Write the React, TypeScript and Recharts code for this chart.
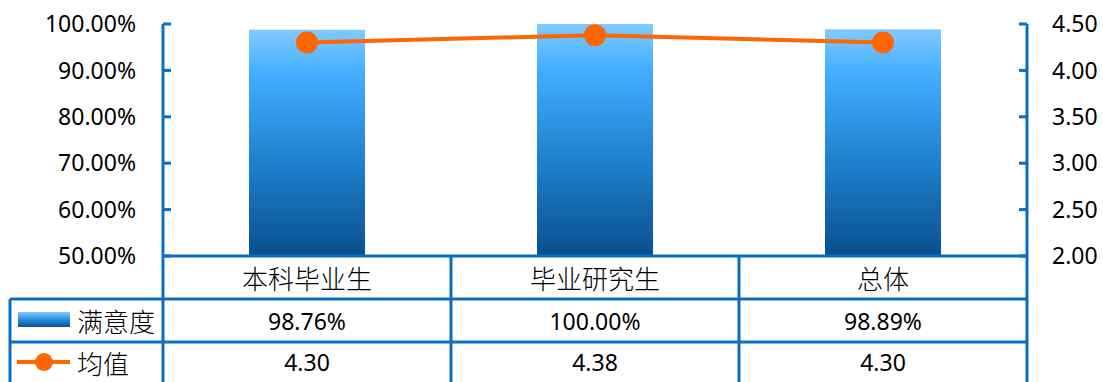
import React from 'react';
import { ComposedChart, Bar, Line, XAxis, YAxis } from 'recharts';

const categories = ['本科毕业生', '毕业研究生', '总体'];
const satisfaction = [0.9876, 1.0, 0.9889];
const satisfactionLabels = ['98.76%', '100.00%', '98.89%'];
const means = [4.3, 4.38, 4.3];
const meanLabels = ['4.30', '4.38', '4.30'];
const seriesNames = ['满意度', '均值'];
const leftTicks = [0.5, 0.6, 0.7, 0.8, 0.9, 1.0];
const rightTicks = [2.0, 2.5, 3.0, 3.5, 4.0, 4.5];

const data = categories.map((c, i) => ({ name: c, sat: satisfaction[i], mean: means[i] }));

const W = 1103;
const H = 382;
const LEFT_W = 163;
const RIGHT_W = 76;
const X_H = 126;
const BLUE = '#0A6FC2';
const ORANGE = '#FF6600';
const LATIN = '"Noto Sans", "Open Sans", sans-serif';
const CJK = '"Noto Sans CJK SC", "Noto Sans", sans-serif';
const BW = (W - LEFT_W - RIGHT_W) / categories.length;
const ROW1 = 43;
const ROW2 = 86;

const TableTick = (props: any) => {
  const { x, y, index } = props;
  const l = x - BW / 2;
  const r = x + BW / 2;
  const bottom = y + X_H;
  return (
    <g>
      <text x={x} y={y + 21} textAnchor="middle" dominantBaseline="central" fontFamily={CJK} fontSize={26} fontWeight={300} fill="#000">
        {categories[index]}
      </text>
      <text x={x} y={y + 64.5} textAnchor="middle" dominantBaseline="central" fontFamily={LATIN} fontSize={23} fill="#000">
        {satisfactionLabels[index]}
      </text>
      <text x={x} y={y + 106} textAnchor="middle" dominantBaseline="central" fontFamily={LATIN} fontSize={23} fill="#000">
        {meanLabels[index]}
      </text>
      <line x1={l} x2={r} y1={y + ROW1} y2={y + ROW1} stroke={BLUE} strokeWidth={3} />
      <line x1={l} x2={r} y1={y + ROW2} y2={y + ROW2} stroke={BLUE} strokeWidth={3} />
      <line x1={r} x2={r} y1={y} y2={bottom} stroke={BLUE} strokeWidth={3} />
      {index === 0 && (
        <g>
          <line x1={l} x2={l} y1={y} y2={bottom} stroke={BLUE} strokeWidth={3} />
          <line x1={10} x2={l} y1={y + ROW1} y2={y + ROW1} stroke={BLUE} strokeWidth={3} />
          <line x1={10} x2={l} y1={y + ROW2} y2={y + ROW2} stroke={BLUE} strokeWidth={3} />
          <line x1={10} x2={10} y1={y + ROW1} y2={bottom} stroke={BLUE} strokeWidth={3} />
          <rect x={18} y={y + 56} width={52} height={15} fill="url(#legendGrad)" />
          <text x={77} y={y + 64.5} dominantBaseline="central" fontFamily={CJK} fontSize={26} fontWeight={300} fill="#000">
            {seriesNames[0]}
          </text>
          <line x1={17} x2={70} y1={y + 106} y2={y + 106} stroke={ORANGE} strokeWidth={4} />
          <circle cx={44} cy={y + 106} r={9} fill={ORANGE} />
          <text x={77} y={y + 106} dominantBaseline="central" fontFamily={CJK} fontSize={26} fontWeight={300} fill="#000">
            {seriesNames[1]}
          </text>
        </g>
      )}
    </g>
  );
};

export default function App() {
  return (
    <div style={{ position: 'absolute', left: 0, top: 0, width: W, height: H, background: '#fff' }}>
      <svg width={0} height={0} style={{ position: 'absolute' }}>
        <defs>
          <linearGradient id="barGrad" x1="0" y1="0" x2="0" y2="1">
            <stop offset="0%" stopColor="#80CAFF" />
            <stop offset="20%" stopColor="#42ADFF" />
            <stop offset="60%" stopColor="#1E7FCB" />
            <stop offset="100%" stopColor="#0A4F8E" />
          </linearGradient>
          <linearGradient id="legendGrad" x1="0" y1="0" x2="0" y2="1">
            <stop offset="0%" stopColor="#80CAFF" />
            <stop offset="50%" stopColor="#2A8FE0" />
            <stop offset="100%" stopColor="#0A4F8E" />
          </linearGradient>
        </defs>
      </svg>
      <ComposedChart width={W} height={H} data={data} margin={{ top: 24, right: 0, bottom: 0, left: 0 }}>
        <XAxis
          dataKey="name"
          height={X_H}
          interval={0}
          tickLine={false}
          tickSize={0}
          tickMargin={0}
          axisLine={{ stroke: BLUE, strokeWidth: 3 }}
          tick={<TableTick />}
        />
        <YAxis
          yAxisId="left"
          orientation="left"
          width={LEFT_W}
          domain={[0.5, 1]}
          ticks={leftTicks}
          interval={0}
          tickFormatter={(v: number) => (v * 100).toFixed(2) + '%'}
          axisLine={{ stroke: BLUE, strokeWidth: 3 }}
          tickLine={{ stroke: BLUE, strokeWidth: 3 }}
          tickSize={-8}
          tickMargin={35}
          tick={{ fontFamily: LATIN, fontSize: 23, fill: '#000' }}
        />
        <YAxis
          yAxisId="right"
          orientation="right"
          width={RIGHT_W}
          domain={[2, 4.5]}
          ticks={rightTicks}
          interval={0}
          tickFormatter={(v: number) => v.toFixed(2)}
          axisLine={{ stroke: BLUE, strokeWidth: 3 }}
          tickLine={{ stroke: BLUE, strokeWidth: 3 }}
          tickSize={-8}
          tickMargin={33}
          tick={{ fontFamily: LATIN, fontSize: 23, fill: '#000' }}
        />
        <Bar yAxisId="left" dataKey="sat" fill="url(#barGrad)" barSize={116} isAnimationActive={false} />
        <Line
          yAxisId="right"
          dataKey="mean"
          stroke={ORANGE}
          strokeWidth={4}
          dot={{ r: 11, fill: ORANGE, stroke: 'none' }}
          activeDot={false}
          isAnimationActive={false}
        />
      </ComposedChart>
    </div>
  );
}
